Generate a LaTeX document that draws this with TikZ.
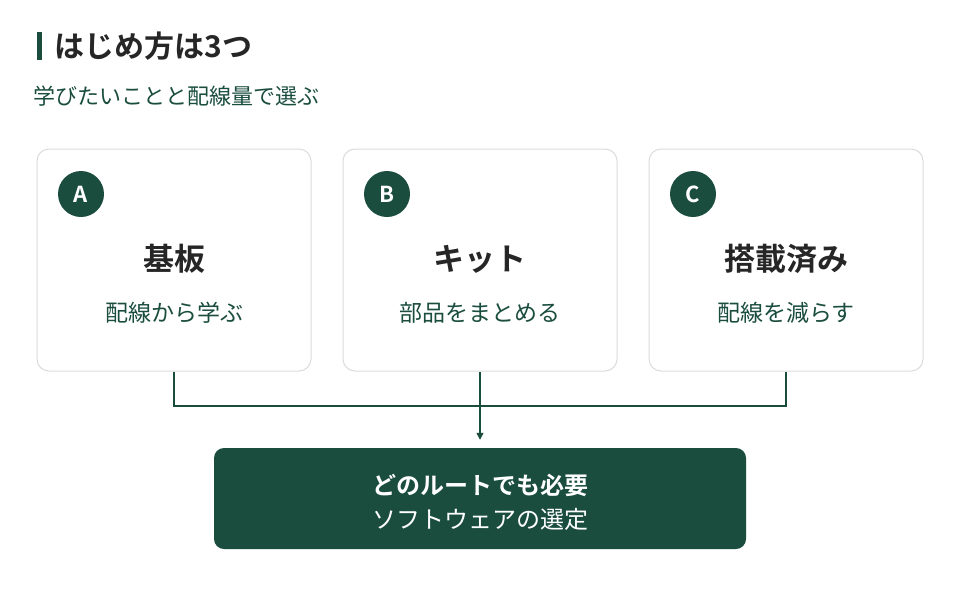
\documentclass[tikz,border=0pt]{standalone}
\usepackage{fontspec}
\setmainfont{Noto Sans CJK JP}[BoldFont={Noto Sans CJK JP Bold}]
\usetikzlibrary{positioning,arrows.meta}
\definecolor{deepgreen}{HTML}{1A4D3E}
\definecolor{cardline}{HTML}{DCDCDC}
\tikzset{
    card/.style={draw=cardline,line width=1pt,rounded corners=12pt,fill=white,
        minimum width=274pt,minimum height=222pt,inner sep=0pt},
    badge/.style={circle,fill=deepgreen,text=white,minimum size=46pt,inner sep=0pt,
        font=\bfseries\fontsize{22}{22}\selectfont},
    card title/.style={font=\bfseries\fontsize{31}{31}\selectfont,text=black!85},
    card text/.style={font=\fontsize{23}{23}\selectfont,text=deepgreen},
    wire/.style={deepgreen,line width=1.5pt},
    >={Triangle[length=7pt,width=7pt]},
}
\begin{document}
\begin{tikzpicture}[x=1pt,y=-1pt]
    \useasboundingbox[fill=white] (0,0) rectangle (960,606);
    \fill[deepgreen] (37,32) rectangle (42,60);
    \node[anchor=west,font=\bfseries\fontsize{30}{30}\selectfont,text=black!85] (title) at (51,46) {はじめ方は3つ};
    \node[anchor=west,font=\fontsize{22}{22}\selectfont,text=deepgreen] (sub) at (30,96) {学びたいことと配線量で選ぶ};
    \foreach \x/\name/\letter/\head/\body in {174/A/A/基板/配線から学ぶ,480/B/B/キット/部品をまとめる,786/C/C/搭載済み/配線を減らす}{
        \node[card] (\name) at (\x,260) {};
        \node[badge] (\name badge) at (\x-93,194) {\letter};
        \node[card title] (\name head) at (\x,259) {\head};
        \node[card text] (\name body) at (\x,313) {\body};
    }
    \node[rounded corners=10pt,fill=deepgreen,minimum width=532pt,minimum height=101pt,inner sep=0pt] (goal) at (480,498.5) {};
    \node[text=white,font=\bfseries\fontsize{24}{24}\selectfont] (goal head) at (480,485) {どのルートでも必要};
    \node[text=white,font=\fontsize{24}{24}\selectfont] (goal body) at (480,519) {ソフトウェアの選定};
    \coordinate (join) at (480,406);
    \draw[wire] (A.south) |- (join) -| (C.south);
    \draw[wire,->] (B.south) -- ([yshift=8pt]goal.north);
\end{tikzpicture}
\end{document}
